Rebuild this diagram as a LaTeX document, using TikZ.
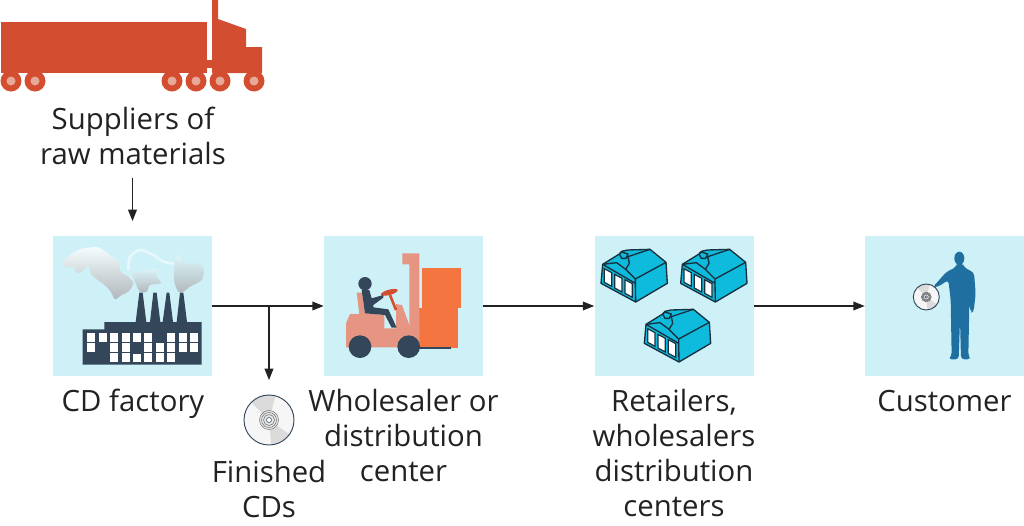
\documentclass[tikz,border=0pt]{standalone}
\usepackage{fontspec}
\setmainfont{Open Sans}
\usetikzlibrary{positioning}
\usetikzlibrary{arrows.meta}
\definecolor{panelblue}{HTML}{CEF1F8}
\definecolor{truckred}{HTML}{D34E30}
\definecolor{wheelpink}{HTML}{E8A898}
\definecolor{slate}{HTML}{33465A}
\definecolor{liftpink}{HTML}{E59582}
\definecolor{crateorange}{HTML}{F47540}
\definecolor{depotblue}{HTML}{0FBBDC}
\definecolor{depotline}{HTML}{16303F}
\definecolor{manblue}{HTML}{1F6FA0}
\definecolor{inkgray}{HTML}{222222}
\definecolor{smokegray}{HTML}{B0B8BC}
\tikzset{
  panel/.style={fill=panelblue, minimum width=119.25pt, minimum height=105pt, inner sep=0pt},
  caption/.style={text=inkgray, align=center, font=\fontsize{22}{26.25}\selectfont, inner sep=0pt},
  flow/.style={-{Stealth[length=8.5pt,width=6.5pt,inset=0pt]}, line width=1pt, inkgray},
  discnode/.style={circle, inner sep=0pt, minimum size=37.5pt},
  smoke/.style={top color=#1, bottom color=smokegray, draw=none},
  zoomed/.style={x=.25pt, y=-.25pt},
  cdisc/.pic={
    \fill[gray!7!white] (0,0) circle (25);
    \fill[gray!28!white] (0,0) -- (35:25) arc (35:85:25) -- cycle;
    \fill[gray!28!white] (0,0) -- (225:25) arc (225:285:25) -- cycle;
    \draw[slate, line width=.7pt] (0,0) circle (25);
    \fill[gray!20!white] (0,0) circle (9.5);
    \draw[gray!80!black, line width=.35pt] (0,0) circle (9.5) (0,0) circle (7.5) (0,0) circle (5.5);
    \draw[slate, fill=white, line width=.4pt] (0,0) circle (2.5);
  },
  depot/.pic={
    \draw[fill=depotblue, draw=depotline, line width=1pt, line join=round]
      (38,103) -- (88,72) -- (95,64) -- (113,60) -- (180,58) -- (228,97) -- (232,160) -- (137,216) -- (33,160) -- cycle;
    \draw[draw=depotline, line width=1pt, line join=round]
      (38,103) -- (136,160) -- (137,216) (136,160) -- (136,147) -- (228,97)
      (136,147) -- (107,118) -- (118,100) -- (114,80) -- (180,58)
      (38,103) -- (80,98) -- (107,118)
      (88,72) -- (95,85) -- (108,85) -- (114,72) -- (95,66) -- (88,72);
    \foreach \wx/\wy in {43/116, 74/133, 105/149} {
      \draw[fill=white, draw=depotline, line width=.9pt]
        (\wx,\wy) -- ++(22,12) -- ++(0,41) -- ++(-22,-12) -- cycle;
    }
  }
}
\begin{document}
\begin{tikzpicture}[x=.75pt, y=-.75pt]
  \useasboundingbox (0,0) rectangle (1024,525);

  % boxes
  \foreach \x/\name in {132.5/factory, 403.5/wholesaler, 674/retailers, 944.5/customer} {
    \node[panel] (\name) at (\x,306) {};
  }

  % truck
  \fill[truckred] (1,22) rectangle (207,73);
  \fill[truckred] (207,60) rectangle (212,68);
  \fill[truckred] (212,0) -- (218,0) -- (218,19) -- (246,29) -- (246,47) -- (262,47) -- (262,73) -- (212,73) -- cycle;
  \foreach \x in {11,35,172,196,220,254} {
    \fill[truckred] (\x,81) circle (10.5);
    \fill[wheelpink] (\x,81) circle (4.5);
  }

  % factory
  \begin{scope}[shift={(50,230)}, zoomed]
    \draw[white!50!panelblue, line width=2pt] plot[smooth] coordinates {(235,120) (240,80) (270,60) (310,75) (340,95) (372,100)};
    \shade[smoke=white!80!panelblue] plot[smooth cycle] coordinates {(38,100) (55,80) (75,65) (100,55) (145,52) (170,68) (205,95) (212,125) (235,140) (250,160) (235,185) (215,195) (195,208) (185,190) (170,170) (150,155) (125,135) (115,110) (95,125) (80,130) (70,110) (50,112)};
    \shade[smoke=white!30!panelblue] plot[smooth cycle] coordinates {(245,125) (270,125) (320,115) (320,140) (333,160) (300,165) (290,185) (270,185) (255,155)};
    \shade[smoke=white!30!panelblue] plot[smooth cycle] coordinates {(375,90) (390,75) (405,100) (445,100) (460,115) (455,150) (420,170) (400,185) (385,185) (372,150)};
    \fill[slate] (98,404) -- (98,298) -- (163,298) -- (163,276) -- (455,276) -- (455,404) -- cycle;
    \foreach \a/\b/\c/\d in {257/268/278/289, 300/310/320/331, 338/350/358/369, 380/390/400/411} {
      \fill[slate] (\a,276) -- (\b,188) -- (\c,188) -- (\d,276) -- cycle;
    }
    \foreach \wx in {112,146,180,215,249,283,350,386,420} {
      \fill[white] (\wx,308) rectangle +(24,28);
    }
    \foreach \wx in {112,180,215,283,317,350,386,420} {
      \fill[white] (\wx,340) rectangle +(24,26);
    }
    \foreach \wx in {180,215,283,317,350} {
      \fill[white] (\wx,369) rectangle +(24,26);
    }
    \fill[white] (249,372) rectangle +(24,23);
  \end{scope}

  % forklift
  \begin{scope}[shift={(320,230)}, zoomed]
    \fill[crateorange] (307,114) rectangle (422,234);
    \fill[crateorange] (298,234) rectangle (414,354);
    \fill[slate] (298,352) rectangle (393,357);
    \fill[liftpink] (247,70) -- (298,70) -- (298,330) -- (268,330) -- (268,103) -- (247,103) -- cycle;
    \fill[liftpink] (78,352) -- (78,280) -- (90,252) -- (118,252) -- (110,188) -- (126,188) -- (135,250) -- (193,255) -- (193,295) -- (228,295) -- (228,222) -- (246,225) -- (268,285) -- (298,300) -- (298,352) -- cycle;
    \draw[truckred, line width=2pt] (210,195) -- (228,240);
    \fill[truckred, rotate around={15:(208,187)}] (208,187) ellipse (26 and 8);
    \fill[slate] (135,161) circle (20);
    \fill[slate] (125,180) -- (148,180) -- (155,205) -- (190,195) -- (190,203) -- (160,225) -- (160,232) -- (205,238) -- (230,293) -- (215,293) -- (195,255) -- (135,250) -- cycle;
    \fill[slate] (120,350) circle (34);
    \fill[slate] (266,350) circle (34);
  \end{scope}

  % warehouses
  \begin{scope}[shift={(590,230)}, zoomed]
    \foreach \dx/\dy in {0/0, 239/0, 130/180} {
      \pic at (\dx,\dy) {depot};
    }
  \end{scope}

  % man with disc
  \begin{scope}[shift={(860,230)}, zoomed]
    \fill[manblue] (298,85) ellipse (15 and 20);
    \fill[manblue, rounded corners=2.5pt] (290,100) -- (308,100) -- (312,112) -- (342,128) -- (347,190) -- (341,245) -- (332,248) -- (328,220) -- (325,378) -- (332,388) -- (303,388) -- (300,270) -- (296,388) -- (265,388) -- (275,378) -- (272,210) -- (265,150) -- (235,170) -- (218,172) -- (260,125) -- (288,112) -- cycle;
  \end{scope}
  \pic[scale=.52] at (926.3,297) {cdisc};

  % finished disc
  \node[discnode] (disc) at (269,420) {};
  \pic at (disc.center) {cdisc};

  % labels
  \node[caption] (suppliers) at (133,135.5) {Suppliers of\\raw materials};
  \node[caption, anchor=base] (factorytext) at (133,411) {CD factory};
  \node[caption] (finished) at (269,488.5) {Finished\\CDs};
  \node[caption, anchor=north] (wholesalertext) at (403.5,389) {Wholesaler or\\distribution\\center};
  \node[caption, anchor=north] (retailerstext) at (674,389) {Retailers,\\wholesalers\\distribution\\centers};
  \node[caption, anchor=base] (customertext) at (944.5,411) {Customer};

  % arrows
  \coordinate (branch) at (269,306);
  \draw[flow, shorten <=10pt, shorten >=11pt] (suppliers.south -| factory.north) -- (factory.north);
  \draw[flow] (factory.east) -- (wholesaler.west);
  \draw[flow, shorten >=11pt] (branch) -- (disc.north);
  \draw[flow] (wholesaler.east) -- (retailers.west);
  \draw[flow] (retailers.east) -- (customer.west);
\end{tikzpicture}
\end{document}
